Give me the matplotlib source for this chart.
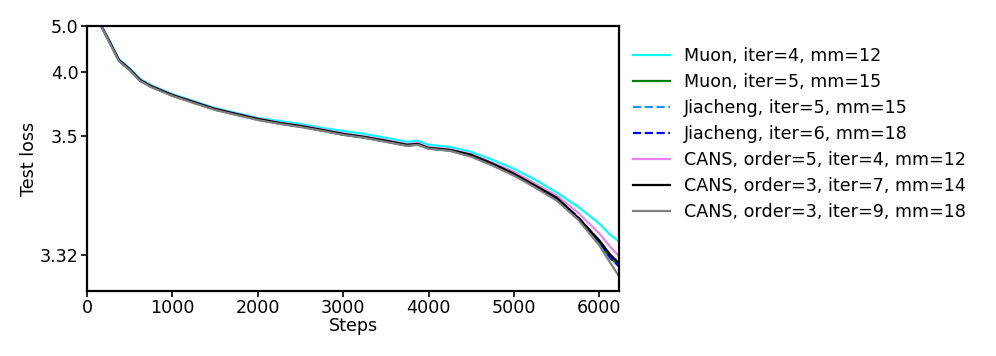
import numpy as np
import matplotlib
matplotlib.use("Agg")
import matplotlib.pyplot as plt

# evaluation steps
steps = [125, 250, 375, 500, 625, 750, 1000, 1250, 1500, 1750, 2000, 2250, 2500,
         2750, 3000, 3250, 3500, 3750, 3875, 4000, 4250, 4500, 4750, 5000, 5250,
         5500, 5750, 6000, 6125, 6230]

muon_4_12 = [5.2, 4.641, 4.194, 4.051, 3.908, 3.841, 3.755, 3.697, 3.647, 3.615, 3.586,
             3.570, 3.555, 3.536, 3.5226, 3.510, 3.4945, 3.480, 3.484, 3.470, 3.4634,
             3.4484, 3.4271, 3.4069, 3.3864, 3.3676, 3.3513, 3.3370, 3.3299, 3.3261]
muon_5_15 = [5.25, 4.60, 4.165, 4.028, 3.888, 3.824, 3.741, 3.685, 3.636, 3.605, 3.577,
             3.557, 3.542, 3.524, 3.507, 3.495, 3.481, 3.467, 3.471, 3.458, 3.452,
             3.437, 3.415, 3.395, 3.375, 3.359, 3.3410, 3.3255, 3.3190, 3.3163]
jiacheng_5_15 = [5.25, 4.605, 4.17, 4.03, 3.89, 3.826, 3.743, 3.687, 3.638, 3.607, 3.579,
                 3.559, 3.544, 3.526, 3.509, 3.497, 3.483, 3.469, 3.473, 3.460, 3.454,
                 3.439, 3.417, 3.397, 3.377, 3.361, 3.342, 3.3265, 3.3198, 3.3168]
jiacheng_6_18 = [5.25, 4.61, 4.17, 4.03, 3.89, 3.826, 3.742, 3.686, 3.637, 3.606, 3.578,
                 3.558, 3.543, 3.525, 3.508, 3.496, 3.482, 3.468, 3.472, 3.459, 3.453,
                 3.438, 3.416, 3.396, 3.376, 3.360, 3.3415, 3.3261, 3.3192, 3.3161]
cans_5_4_12 = [5.25, 4.62, 4.18, 4.04, 3.90, 3.834, 3.749, 3.692, 3.643, 3.611, 3.583,
               3.562, 3.547, 3.530, 3.512, 3.500, 3.486, 3.472, 3.476, 3.462, 3.456,
               3.442, 3.420, 3.401, 3.380, 3.3635, 3.3457, 3.3305, 3.3237, 3.3196]
cans_3_7_14 = [5.25, 4.615, 4.177, 4.037, 3.896, 3.831, 3.746, 3.690, 3.6405, 3.609, 3.581,
               3.560, 3.545, 3.527, 3.510, 3.498, 3.484, 3.470, 3.473, 3.460, 3.4542,
               3.440, 3.418, 3.3971, 3.3770, 3.3610, 3.3415, 3.3266, 3.3203, 3.3171]
cans_3_9_18 = [5.25, 4.590, 4.160, 4.023, 3.884, 3.821, 3.738, 3.682, 3.634, 3.603, 3.575,
               3.555, 3.540, 3.523, 3.506, 3.4945, 3.480, 3.4667, 3.470, 3.4574, 3.4513,
               3.4348, 3.4134, 3.3934, 3.3741, 3.3577, 3.3399, 3.3242, 3.3174, 3.3133]

labels = ["Muon, iter=4, mm=12", "Muon, iter=5, mm=15", "Jiacheng, iter=5, mm=15",
          "Jiacheng, iter=6, mm=18", "CANS, order=5, iter=4, mm=12",
          "CANS, order=3, iter=7, mm=14", "CANS, order=3, iter=9, mm=18"]
ytick_vals = [3.32, 3.5, 4.0, 5.0]
ytick_labels = ["3.32", "3.5", "4.0", "5.0"]

series = [muon_4_12, muon_5_15, jiacheng_5_15, jiacheng_6_18, cans_5_4_12, cans_3_7_14, cans_3_9_18]
colors = ["cyan", "green", "dodgerblue", "blue", "violet", "black", "gray"]
styles = ["-", "-", "--", "--", "-", "-", "-"]

fs = 12.6

fig = plt.figure(figsize=(9.96, 3.56), dpi=100)
ax = fig.add_axes([0.0873, 0.1826, 0.5342, 0.7444])

for y, c, ls, lab in zip(series, colors, styles, labels):
    ax.plot(steps, y, color=c, linestyle=ls, linewidth=1.6, label=lab)

# loss axis stretched near the floor
ax.set_yscale("function", functions=(lambda v: np.log(np.maximum(v - 3.3, 1e-9)),
                                     lambda t: np.exp(t) + 3.3))
ax.set_ylim(3.31, 5.0)
ax.set_xlim(0, 6230)
ax.set_yticks(ytick_vals)
ax.set_yticklabels(ytick_labels)
ax.minorticks_off()
ax.set_xticks([0, 1000, 2000, 3000, 4000, 5000, 6000])

ax.tick_params(labelsize=fs, width=1.2, length=4, pad=2)
for s in ax.spines.values():
    s.set_linewidth(1.6)
ax.set_xlabel("Steps", fontsize=fs, labelpad=0)
ax.set_ylabel("Test loss", fontsize=fs, labelpad=1)

ax.legend(loc="center left", bbox_to_anchor=(0.996, 0.592), frameon=False, fontsize=fs,
          handlelength=2.15, handletextpad=0.8, labelspacing=0.46)

fig.savefig("out.png", dpi=100)
